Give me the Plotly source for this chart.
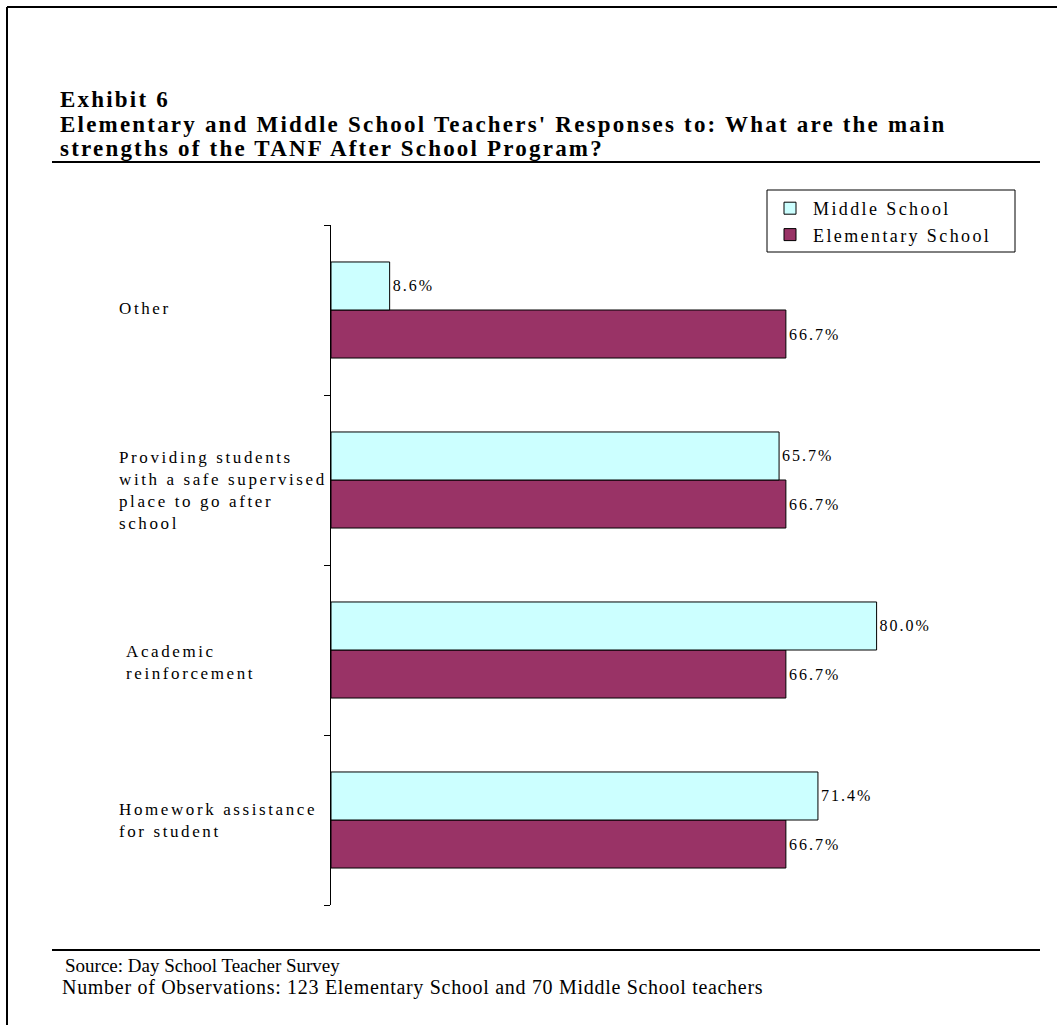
import plotly.graph_objects as go

# Response categories, listed bottom to top as they appear on the axis
categories = [
    "Homework assistance for student",
    "Academic reinforcement",
    "Providing students with a safe supervised place to go after school",
    "Other",
]
category_text = [
    "Homework assistance<br>for student",
    "Academic<br>reinforcement",
    "Providing students<br>with a safe supervised<br>place to go after<br>school",
    "Other",
]
middle_school = [71.4, 80.0, 65.7, 8.6]
elementary_school = [66.7, 66.7, 66.7, 66.7]

title_lines = [
    "Exhibit 6",
    "Elementary and Middle School Teachers' Responses to: What are the main",
    "strengths of the TANF After School Program?",
]
footnotes = [
    "Source: Day School Teacher Survey",
    "Number of Observations: 123 Elementary School and 70 Middle School teachers",
]

SERIF = "Times New Roman, Liberation Serif, serif"
W, H = 1057, 1025
L, R, T, B = 331, 1013, 225, 905  # plot area in pixels


def px_x(px):
    return (px - L) / (R - L)


def px_y(py):
    return (B - py) / (B - T)


def spaced(s, sp):
    return f'<span style="letter-spacing:{sp}px">{s}</span>'


fig = go.Figure()
bar_text = spaced("%{x:.1f}%", 2.0)
for name, vals, color in [("Elementary School", elementary_school, "#993366"),
                          ("Middle School", middle_school, "#CCFFFF")]:
    fig.add_trace(go.Bar(
        y=categories, x=vals, orientation="h",
        name=spaced(name, 2.4),
        marker=dict(color=color, line=dict(color="#000000", width=1)),
        texttemplate=bar_text, textposition="outside", cliponaxis=False,
        constraintext="none",
        textfont=dict(family=SERIF, size=16, color="#000000"),
        hoverinfo="skip",
    ))

annotations = []
# Category labels, left aligned beside the axis
label_x = [117, 124, 117, 117]
label_shift = [0, -12, -10, 2]
for cat, txt, lx, sh in zip(categories, category_text, label_x, label_shift):
    annotations.append(dict(
        x=px_x(lx), xref="paper", xanchor="left",
        y=cat, yref="y", yanchor="middle", yshift=sh,
        text=spaced(txt, 2.6), align="left", showarrow=False,
        font=dict(family=SERIF, size=17, color="#000000"),
    ))

# Title block
for line, ty in zip(title_lines, [99, 124, 149]):
    annotations.append(dict(
        x=px_x(58), xref="paper", xanchor="left",
        y=px_y(ty), yref="paper", yanchor="middle",
        text=spaced(f"<b>{line}</b>", 2.2), showarrow=False,
        font=dict(family=SERIF, size=23, color="#000000"),
    ))

# Footnotes
for line, fx, fy, fs, sp in zip(footnotes, [63, 60], [966, 987],
                                [19, 20], [0, 0.7]):
    annotations.append(dict(
        x=px_x(fx), xref="paper", xanchor="left",
        y=px_y(fy), yref="paper", yanchor="middle",
        text=spaced(line, sp), showarrow=False,
        font=dict(family=SERIF, size=fs, color="#000000"),
    ))

shapes = []
# Frame (top and left edges) and the two horizontal rules
for x0, y0, x1, y1 in [(7, 7, W, 7), (7, 7, 7, H),
                       (52, 162, 1040, 162), (52, 950, 1040, 950)]:
    shapes.append(dict(
        type="line", xref="paper", yref="paper",
        x0=px_x(x0), y0=px_y(y0), x1=px_x(x1), y1=px_y(y1),
        line=dict(color="#000000", width=2),
    ))
# Legend frame
shapes.append(dict(
    type="rect", xref="paper", yref="paper",
    x0=px_x(767), y0=px_y(190), x1=px_x(1015), y1=px_y(252),
    line=dict(color="#000000", width=1), fillcolor="rgba(0,0,0,0)",
))

fig.update_layout(
    width=W, height=H,
    margin=dict(l=L, r=W - R, t=T, b=H - B, pad=0),
    paper_bgcolor="#FFFFFF", plot_bgcolor="#FFFFFF",
    barmode="group", bargap=0.435, bargroupgap=0,
    showlegend=True,
    legend=dict(
        x=px_x(767), xanchor="left", y=px_y(190), yanchor="top",
        borderwidth=0, bgcolor="rgba(0,0,0,0)",
        traceorder="reversed", itemwidth=36,
        font=dict(family=SERIF, size=18, color="#000000"),
    ),
    xaxis=dict(visible=False, range=[0, 100], fixedrange=True),
    yaxis=dict(
        type="category", categoryorder="array", categoryarray=categories,
        showline=True, linecolor="#000000", linewidth=1,
        ticks="outside", tickson="boundaries", ticklen=6,
        tickcolor="#000000", tickwidth=1,
        showticklabels=False, showgrid=False, zeroline=False,
    ),
    annotations=annotations,
    shapes=shapes,
    font=dict(family=SERIF),
)

fig.write_html("out.html")
